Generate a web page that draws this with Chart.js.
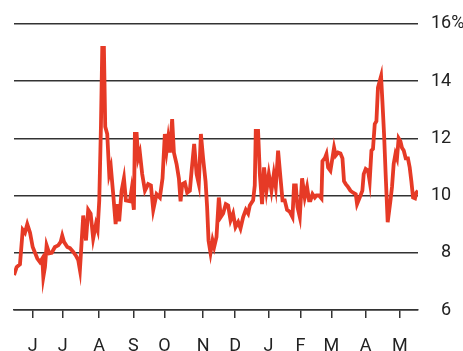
<!DOCTYPE html>
<html>
<head>
<meta charset="utf-8">
<script src="https://cdn.jsdelivr.net/npm/chart.js@4"></script>
<style>
  body { margin: 0; background: #fff; }
  canvas { display: block; }
</style>
</head>
<body>
<canvas id="chart" width="463" height="351"></canvas>
<script>
// days since start of series
var days = [0, 2.4, 5.4, 7.9, 9.9, 12, 14.5, 16.9, 19, 21.1, 23.5, 25.6, 26.5, 28, 29.5, 31.9, 34.1, 37, 40, 42.2,
  43.6, 45.2, 48.2, 50.6, 53.6, 56, 58.1, 59.6, 62.6, 65.1, 67.1, 69.3, 71.6, 74.1, 75.6, 77.1, 78.6, 79.8, 81.3, 82.5,
  84.3, 86.1, 87.6, 89.7, 91.9, 93.3, 95.1, 97.3, 99.4, 101.2, 104.8, 106.3, 108.4, 109.3, 110.9, 112.3, 113.8, 115.9, 118.4, 121.3,
  123.8, 125.9, 128.9, 131.9, 134.3, 136.4, 138, 139.4, 141, 143, 144.6, 147, 149.1, 150.6, 152.1, 154.5, 156.6, 159, 160.6, 162.9,
  165.1, 167.1, 169, 171, 173.2, 174.6, 175.9, 177.7, 179.5, 181, 183.1, 185.2, 187, 189.1, 191.5, 193.6, 195.8, 198.1, 200.3, 202.7,
  204.8, 207.2, 209.6, 211.7, 213.2, 216.2, 217.7, 218.6, 220.7, 222.3, 224.3, 226.1, 228.3, 230.4, 232.8, 234.9, 236.7, 238.8, 241, 242.8,
  244.8, 246.9, 249.4, 251.8, 253.2, 254.8, 256.3, 258.4, 260.5, 262.9, 265, 266.8, 268.1, 269.9, 272, 273.5, 275.8, 278, 278.9, 281,
  282.5, 284, 286.1, 287.9, 289.4, 290.9, 293, 295.2, 297, 298.4, 300, 302, 304.2, 306.6, 309, 310.2, 312.6, 315, 316.2, 318,
  320.1, 321.6, 323.2, 324.6, 326.2, 327.7, 329.1, 330.7, 331.9, 333.1, 334.6, 336.1, 337.9, 340.4, 341.8, 343.3, 344.9, 346.3, 347.8, 349.4,
  350.8, 352.4, 354.2, 356.2, 357.8, 359.3, 360.8, 362.6, 363.8, 365.3]

// percent
var rates = [7.22, 7.5, 7.6, 8.8, 8.7, 9.0, 8.7, 8.2, 8.0, 7.8, 7.67, 7.8, 7.15, 7.5, 8.26, 7.98, 8.0, 8.2, 8.26, 8.38,
  8.6, 8.38, 8.2, 8.16, 8.03, 7.9, 7.74, 7.4, 9.3, 8.43, 9.5, 9.37, 8.5, 9.0, 8.8, 9.83, 12.4, 15.16, 15.16, 12.4,
  12.15, 10.75, 10.98, 10.05, 9.0, 9.7, 9.1, 10.17, 10.6, 9.83, 9.8, 10.2, 9.5, 12.15, 12.15, 11.3, 11.5, 10.75, 10.17, 10.4,
  10.35, 9.5, 10.05, 9.93, 10.6, 12.15, 11.57, 12.0, 11.5, 12.67, 11.5, 11.1, 10.6, 9.8, 10.4, 10.45, 10.1, 10.17, 10.87, 11.8,
  10.75, 10.4, 12.15, 11.3, 10.5, 9.6, 8.43, 8.0, 8.43, 8.2, 8.55, 9.93, 9.25, 9.37, 9.7, 9.65, 9.13, 9.37, 8.9, 9.07,
  8.85, 9.25, 9.5, 9.37, 9.65, 9.83, 10.35, 12.26, 12.26, 10.75, 9.7, 10.98, 10.17, 10.75, 10.17, 10.75, 10.3, 11.57, 10.6, 9.83,
  9.83, 9.5, 9.43, 9.25, 10.35, 10.35, 9.6, 9.25, 10.6, 9.93, 10.3, 9.83, 9.83, 10.05, 9.93, 10.0, 10.0, 9.9, 11.2, 11.3,
  11.45, 10.98, 10.87, 11.3, 11.67, 11.4, 11.5, 11.47, 11.3, 10.5, 10.4, 10.3, 10.17, 10.1, 10.05, 9.7, 9.93, 10.17, 10.75, 10.93,
  10.87, 10.5, 11.57, 11.63, 12.5, 12.6, 13.77, 14.0, 14.17, 13.3, 12.15, 10.7, 9.07, 9.83, 10.3, 11.1, 11.45, 11.3, 12.0, 11.9,
  11.67, 11.57, 11.3, 11.3, 10.98, 10.5, 9.93, 9.9, 10.1, 10.17]

var monthDays = [17, 44, 77, 108, 136, 171, 200, 230, 259, 287, 318, 349]
var monthLabels = ['J', 'J', 'A', 'S', 'O', 'N', 'D', 'J', 'F', 'M', 'A', 'M']
var yTicks = [6, 8, 10, 12, 14, 16]

var points = []
for (var i in days) {
  points.push({ x: days[i], y: rates[i] })
}

var tickFont = { family: 'Roboto', size: 18 }

new Chart(document.getElementById('chart'), {
  type: 'line',
  data: {
    datasets: [
      {
        data: points,
        borderColor: '#e63a26',
        borderWidth: 3.8,
        pointRadius: 0,
        tension: 0,
        borderJoinStyle: 'miter'
      }
    ]
  },
  options: {
    responsive: false,
    animation: false,
    devicePixelRatio: 1,
    layout: { padding: { left: 14, top: 22, right: 0, bottom: 0 } },
    plugins: {
      legend: { display: false },
      tooltip: { enabled: false }
    },
    scales: {
      x: {
        type: 'linear',
        min: 0,
        max: 365.3,
        afterBuildTicks: function (axis) {
          axis.ticks = monthDays.map(function (d) { return { value: d } })
        },
        afterFit: function (axis) { axis.height = 41 },
        grid: {
          drawOnChartArea: false,
          drawTicks: true,
          tickLength: 8,
          color: '#333',
          lineWidth: 1.5
        },
        border: { display: true, color: '#333', width: 1.5 },
        ticks: {
          font: tickFont,
          color: '#222',
          padding: 18,
          maxRotation: 0,
          autoSkip: false,
          callback: function (value, index) { return monthLabels[index] }
        }
      },
      y: {
        position: 'right',
        min: 6,
        max: 16,
        afterBuildTicks: function (axis) {
          axis.ticks = yTicks.map(function (v) { return { value: v } })
        },
        afterFit: function (axis) { axis.width = 45 },
        grid: {
          drawTicks: false,
          color: '#333',
          lineWidth: 1.5
        },
        border: { display: false },
        ticks: {
          font: tickFont,
          color: '#222',
          padding: 13,
          callback: function (value) {
            var s = String(value)
            if (value < 10) s = '\u2007' + s
            if (value === 16) s += '%'
            return s
          }
        }
      }
    }
  }
})
</script>
</body>
</html>
